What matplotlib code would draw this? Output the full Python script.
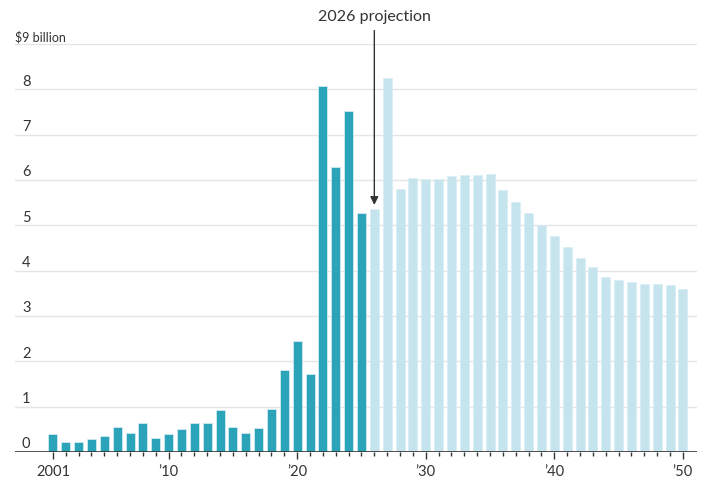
import matplotlib
matplotlib.use("Agg")
import matplotlib.pyplot as plt
import matplotlib.transforms as mtransforms

plt.rcParams['font.family'] = ['Lato', 'DejaVu Sans']

years = list(range(2001, 2051))
values = [0.39, 0.22, 0.22, 0.29, 0.36, 0.56, 0.42, 0.65, 0.31, 0.39,
          0.51, 0.65, 0.65, 0.93, 0.56, 0.42, 0.53, 0.95, 1.80, 2.44,
          1.71, 8.07, 6.28, 7.53, 5.28,
          5.35, 8.26, 5.81, 6.05, 6.02, 6.02, 6.08, 6.11, 6.11, 6.13,
          5.79, 5.52, 5.28, 5.00, 4.77, 4.53, 4.28, 4.07, 3.87, 3.79,
          3.74, 3.70, 3.70, 3.68, 3.60]
projection_start = 2026
y_ticks = [0, 1, 2, 3, 4, 5, 6, 7, 8, 9]
y_labels = ['0', '1', '2', '3', '4', '5', '6', '7', '8', '$9 billion']
x_ticks = [2001, 2010, 2020, 2030, 2040, 2050]
x_labels = ['2001', "\u201910", "\u201920", "\u201930", "\u201940", "\u201950"]

W, H = 715, 482
fig = plt.figure(figsize=(W / 100, H / 100), dpi=100)
left_px, right_px, top_px, bottom_px = 15, 697, 44, 452
ax = fig.add_axes([left_px / W, 1 - bottom_px / H,
                   (right_px - left_px) / W, (bottom_px - top_px) / H])

dark = '#2ba4ba'
light = '#c6e4ee'
colors = [dark if y < projection_start else light for y in years]
ax.bar(years, values, width=0.7, color=colors, edgecolor='#d9eef4',
       linewidth=0.5, zorder=3)

ax.set_xlim(1998.05, 2051.1)
ax.set_ylim(0, 9)

for s in ax.spines.values():
    s.set_visible(False)
ax.axhline(0, color='#333333', linewidth=1.2, zorder=4)
for yv in y_ticks[1:]:
    ax.axhline(yv, color='#e5e5e5', linewidth=1.0, zorder=1)

ax.set_yticks([])
ax.set_xticks(x_ticks)
ax.set_xticklabels(x_labels, fontsize=10.5, color='#333333')
ax.set_xticks(years, minor=True)
ax.tick_params(axis='x', which='major', length=5, width=1, color='#333333', pad=4)
ax.tick_params(axis='x', which='minor', length=3, width=1, color='#333333')

trans = mtransforms.blended_transform_factory(fig.transFigure, ax.transData)
for yv, lab in zip(y_ticks, y_labels):
    if yv == 9:
        off = mtransforms.ScaledTranslation(0, 2.6 / 100, fig.dpi_scale_trans)
        ax.text(15 / W, yv, lab, transform=trans + off, fontsize=9,
                color='#333333', ha='left', va='baseline')
    else:
        dy = 4.5 if yv == 0 else 3.5
        off = mtransforms.ScaledTranslation(0, dy / 100, fig.dpi_scale_trans)
        ax.text(22 / W, yv, lab, transform=trans + off, fontsize=10.5,
                color='#333333', ha='left', va='baseline')

idx = years.index(projection_start)
ax.annotate('2026 projection', xy=(projection_start, values[idx] + 0.1),
            xytext=(projection_start, 9.45), textcoords='data',
            ha='center', va='bottom', fontsize=11.5, color='#333333',
            annotation_clip=False,
            arrowprops=dict(arrowstyle='-|>', color='#333333', lw=1,
                            mutation_scale=12, shrinkA=3, shrinkB=0))

fig.savefig('out.png', dpi=100)
